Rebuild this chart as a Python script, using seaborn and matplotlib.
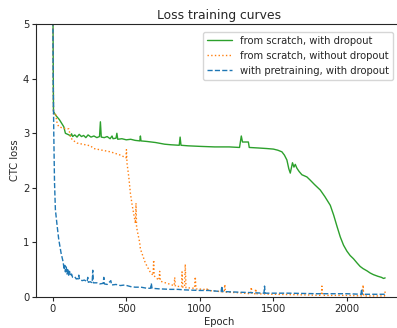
import numpy as np
import matplotlib
matplotlib.use("Agg")
import matplotlib.pyplot as plt
import seaborn as sns

# values (epoch, CTC loss); spikes are kept as points
scratch_drop_epoch = [0, 5, 20, 45, 75, 86, 110, 120, 128, 135, 150, 165, 180, 195, 210, 225, 240, 260,
                      280, 300, 318, 324, 330, 350, 370, 390, 403, 410, 430, 436, 442, 470, 500, 530,
                      560, 592, 596, 600, 640, 700, 760, 800, 860, 866, 872, 920,
                      1000, 1100, 1200, 1270, 1282, 1290, 1330, 1336, 1400, 1456, 1500, 1530, 1558,
                      1575, 1592, 1605, 1615, 1630, 1640, 1649, 1660, 1675, 1694, 1728, 1751, 1780,
                      1819, 1850, 1887, 1910, 1932, 1955, 1977, 2000, 2022, 2045, 2070, 2090, 2110,
                      2136, 2158, 2180, 2210, 2235, 2249, 2260]
scratch_drop_loss = [6.0, 3.40, 3.33, 3.25, 3.12, 3.00, 2.97, 2.95, 2.99, 2.94, 2.97, 2.93, 2.98, 2.94,
                     2.96, 2.92, 2.97, 2.93, 2.95, 2.92, 2.94, 3.21, 2.93, 2.92, 2.94, 2.90, 2.95, 2.90,
                     2.91, 3.00, 2.89, 2.90, 2.88, 2.89, 2.87, 2.86, 2.95, 2.86, 2.85, 2.83,
                     2.80, 2.79, 2.78, 2.93, 2.78, 2.77, 2.76, 2.75, 2.75, 2.74, 2.95, 2.84, 2.84, 2.74,
                     2.73, 2.72, 2.71, 2.69, 2.66, 2.60, 2.51, 2.35, 2.27, 2.46, 2.38, 2.43, 2.36, 2.30,
                     2.24, 2.20, 2.14, 2.06, 1.96, 1.84, 1.68, 1.50, 1.30, 1.10, 0.95, 0.84, 0.76, 0.70,
                     0.62, 0.56, 0.52, 0.48, 0.44, 0.41, 0.38, 0.36, 0.34, 0.35]

scratch_nodrop_epoch = [0, 5, 18, 30, 41, 75, 109, 120, 132, 166, 256, 279, 392, 460, 483, 498, 501, 505,
                        517, 528, 539, 550, 562, 566, 570, 578, 591, 596, 630, 664, 682, 686, 690, 698,
                        722, 727, 732, 754, 790, 822, 826, 829, 834, 868, 876, 879, 884, 896, 901, 906,
                        964, 969, 974, 1026, 1048, 1052, 1056, 1139, 1166, 1170, 1174, 1250, 1346, 1350,
                        1354, 1376, 1380, 1384, 1500, 1700, 1826, 1830, 1834, 2000, 2106, 2110, 2114,
                        2200, 2256, 2260]
scratch_nodrop_loss = [6.0, 3.36, 3.37, 3.18, 3.12, 3.09, 3.08, 2.95, 2.88, 2.82, 2.77, 2.72, 2.66, 2.60,
                       2.57, 2.55, 2.70, 2.45, 2.20, 1.90, 1.70, 1.53, 1.35, 1.72, 1.28, 1.17, 1.00, 0.88,
                       0.62, 0.45, 0.40, 0.68, 0.39, 0.36, 0.31, 0.47, 0.29, 0.27, 0.24, 0.21, 0.21, 0.36,
                       0.20, 0.19, 0.19, 0.46, 0.18, 0.18, 0.60, 0.17, 0.16, 0.37, 0.15, 0.14, 0.13, 0.17,
                       0.12, 0.10, 0.09, 0.23, 0.09, 0.08, 0.06, 0.18, 0.06, 0.06, 0.15, 0.06, 0.05, 0.04,
                       0.03, 0.20, 0.03, 0.03, 0.02, 0.22, 0.02, 0.02, 0.02, 0.10]

pretrain_epoch = [0, 3, 7, 12, 18, 30, 41, 57, 70, 78, 82, 86, 92, 97, 103, 108, 114, 120, 128, 135, 150,
                  160, 166, 172, 177, 182, 200, 215, 234, 238, 242, 255, 268, 272, 276, 300, 320, 343,
                  347, 351, 370, 395, 400, 430, 460, 490, 530, 560, 600, 640, 665, 670, 675, 720, 800,
                  850, 900, 1000, 1060, 1145, 1150, 1155, 1250, 1350, 1436, 1440, 1444, 1600, 1800,
                  2000, 2096, 2100, 2104, 2200, 2260]
pretrain_loss = [6.0, 4.0, 3.00, 2.10, 1.60, 1.30, 1.05, 0.80, 0.65, 0.50, 0.58, 0.46, 0.55, 0.42, 0.52,
                 0.40, 0.47, 0.38, 0.42, 0.36, 0.37, 0.33, 0.34, 0.33, 0.40, 0.32, 0.30, 0.31, 0.28, 0.36,
                 0.27, 0.28, 0.26, 0.49, 0.26, 0.26, 0.24, 0.25, 0.36, 0.24, 0.23, 0.30, 0.22, 0.23, 0.21,
                 0.22, 0.19, 0.18, 0.18, 0.16, 0.16, 0.25, 0.16, 0.15, 0.14, 0.14, 0.13, 0.12, 0.12, 0.10,
                 0.20, 0.10, 0.09, 0.08, 0.07, 0.20, 0.07, 0.07, 0.06, 0.06, 0.05, 0.15, 0.05, 0.05, 0.05]

sns.set_style("ticks")
plt.rcParams["font.family"] = ["DejaVu Sans"]

fig = plt.figure(figsize=(3.97, 3.28), dpi=100)
ax = fig.add_axes([0.091, 0.0945, 0.921, 0.832])

sns.lineplot(x=scratch_drop_epoch, y=scratch_drop_loss, ax=ax, color="#2ca02c", lw=1.0,
             label="from scratch, with dropout")
sns.lineplot(x=scratch_nodrop_epoch, y=scratch_nodrop_loss, ax=ax, color="#ff7f0e", lw=1.0,
             linestyle=":", label="from scratch, without dropout")
sns.lineplot(x=pretrain_epoch, y=pretrain_loss, ax=ax, color="#1f77b4", lw=1.0,
             linestyle="--", label="with pretraining, with dropout")

ax.set_ylim(0, 5)
ax.set_xlim(-113, 2373)
ax.set_xticks([0, 500, 1000, 1500, 2000])
ax.set_yticks([0, 1, 2, 3, 4, 5])
for s in ax.spines.values():
    s.set_visible(True)
ax.tick_params(labelsize=7.2, length=3, pad=2)
ax.set_xlabel("Epoch", fontsize=7.2, labelpad=2)
ax.set_ylabel("CTC loss", fontsize=7.2, labelpad=2)
ax.set_title("Loss training curves", fontsize=8.9, pad=4)
ax.legend(loc="upper right", bbox_to_anchor=(0.99, 0.99), fontsize=7.2, frameon=True,
          handlelength=2.5)

fig.savefig("out.png", dpi=100)
